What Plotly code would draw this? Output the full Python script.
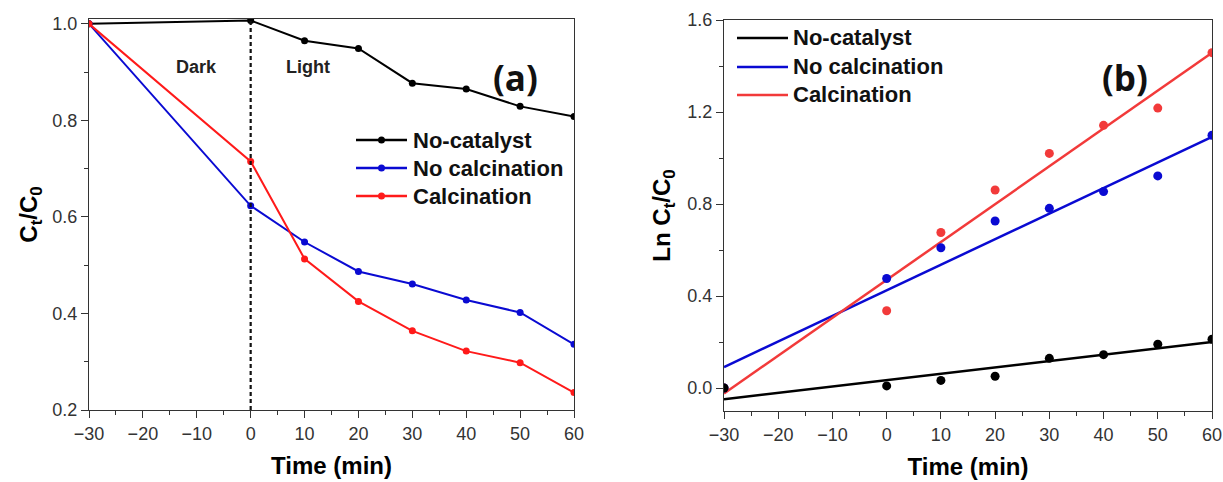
import plotly.graph_objects as go

W, H = 1223, 482

# ---------------- data ----------------
time = [-30, 0, 10, 20, 30, 40, 50, 60]

# panel (a): Ct/C0
a_no_catalyst = [1.000, 1.007, 0.965, 0.949, 0.877, 0.865, 0.829, 0.808]
a_no_calcination = [1.000, 0.623, 0.548, 0.487, 0.461, 0.428, 0.402, 0.336]
a_calcination = [1.000, 0.715, 0.513, 0.425, 0.364, 0.322, 0.298, 0.236]

# panel (b): Ln Ct/C0 points
b_no_catalyst = [0.000, 0.009, 0.033, 0.051, 0.129, 0.145, 0.190, 0.212]
b_no_calcination = [0.000, 0.476, 0.610, 0.726, 0.781, 0.854, 0.922, 1.099]
b_calcination = [0.000, 0.336, 0.676, 0.861, 1.020, 1.142, 1.217, 1.458]

# panel (b): linear fit lines (end points)
fit_x = [-30, 60]
fit_no_catalyst = [-0.049, 0.200]
fit_no_calcination = [0.091, 1.092]
fit_calcination = [-0.024, 1.458]

series_names = ["No-catalyst", "No calcination", "Calcination"]

# ---------------- styles ----------------
BLACK = "#000000"
BLUE = "#0a0ad2"
RED = "#ff1a1a"
RED_B = "#f23a3a"
colors_a = [BLACK, BLUE, RED]
colors_b = [BLACK, BLUE, RED_B]

TICK_FONT = dict(family="Liberation Sans, Arial", size=18, color="#333333")
TITLE_FONT = dict(family="Liberation Sans, Arial", size=24, color="#000000")
LEG_FONT = dict(family="Liberation Sans, Arial", size=22, color="#111111")


def px_x(p):
    return p / W


def px_y(p):
    return 1 - p / H


fig = go.Figure()

# ---- panel (a) traces ----
for name, ys, c in zip(series_names, [a_no_catalyst, a_no_calcination, a_calcination], colors_a):
    fig.add_trace(go.Scatter(
        x=time, y=ys, name=name, mode="lines+markers",
        line=dict(color=c, width=2), marker=dict(color=c, size=7),
        xaxis="x", yaxis="y", showlegend=False))

# ---- panel (b) traces: fit lines then points ----
for name, ys, c in zip(series_names, [fit_no_catalyst, fit_no_calcination, fit_calcination], colors_b):
    fig.add_trace(go.Scatter(
        x=fit_x, y=ys, name=name, mode="lines",
        line=dict(color=c, width=2.5), xaxis="x2", yaxis="y2", showlegend=False))
for name, ys, c in zip(series_names[::-1],
                       [b_calcination, b_no_calcination, b_no_catalyst], colors_b[::-1]):
    fig.add_trace(go.Scatter(
        x=time, y=ys, name=name, mode="markers",
        marker=dict(color=c, size=9), xaxis="x2", yaxis="y2", showlegend=False))

axis_common = dict(
    showline=True, linecolor="#333333", linewidth=1.3, mirror=True,
    ticks="outside", ticklen=7, tickwidth=1.3, tickcolor="#333333",
    showgrid=False, zeroline=False, tickfont=TICK_FONT, title_font=TITLE_FONT,
    automargin=False,
)
minor_common = dict(ticks="outside", ticklen=4, tickwidth=1.2, tickcolor="#333333")

fig.update_layout(
    width=W, height=H,
    margin=dict(l=0, r=0, t=0, b=0, autoexpand=False),
    paper_bgcolor="white", plot_bgcolor="white",
    xaxis=dict(axis_common, domain=[px_x(89), px_x(574)], range=[-30, 60], dtick=10,
               tick0=0, minor=dict(minor_common, dtick=5),
               anchor="y", title=dict(text="<b>Time (min)</b>", standoff=14)),
    yaxis=dict(axis_common, domain=[px_y(410), px_y(19)], range=[0.2, 1.01], dtick=0.2,
               tick0=0.2, tickformat=".1f", minor=dict(minor_common, dtick=0.1),
               anchor="x", title=dict(text="<b>C<sub>t</sub>/C<sub>0</sub></b>", standoff=7)),
    xaxis2=dict(axis_common, domain=[px_x(724), px_x(1212)], range=[-30, 60], dtick=10,
                tick0=0, minor=dict(minor_common, dtick=5),
                anchor="y2", title=dict(text="<b>Time (min)</b>", standoff=14)),
    yaxis2=dict(axis_common, domain=[px_y(411), px_y(20)], range=[-0.1, 1.6], dtick=0.4,
                tick0=0, tickformat=".1f", minor=dict(minor_common, dtick=0.2),
                anchor="x2", title=dict(text="<b>Ln C<sub>t</sub>/C<sub>0</sub></b>", standoff=9)),
    showlegend=False,
)

# dashed divider at t = 0 in panel (a)
fig.add_shape(type="line", xref="x", yref="y", x0=0, x1=0, y0=0.2, y1=1.01,
              line=dict(color="#111111", width=2.2, dash="4px,3px"))

# Dark / Light labels
fig.add_annotation(x=-10, y=0.911, xref="x", yref="y", text="<b>Dark</b>", showarrow=False,
                   font=dict(family="Liberation Sans, Arial", size=18, color="#222222"))
fig.add_annotation(x=10.6, y=0.911, xref="x", yref="y", text="<b>Light</b>", showarrow=False,
                   font=dict(family="Liberation Sans, Arial", size=18, color="#222222"))

# panel labels
for txt, cx in [("(a)", 515), ("(b)", 1150)]:
    fig.add_annotation(x=px_x(cx), y=px_y(52), xref="paper", yref="paper", text=f"<b>{txt}</b>",
                       showarrow=False, font=dict(family="Open Sans", size=35, color="#111111"))

# manual legends
def draw_legend(x0, x1, tx, rows, cols, with_marker):
    for name, ry, c in zip(series_names, rows, cols):
        fig.add_shape(type="line", xref="paper", yref="paper",
                      x0=px_x(x0), x1=px_x(x1), y0=px_y(ry), y1=px_y(ry),
                      line=dict(color=c, width=2.5))
        if with_marker:
            mx = (x0 + x1) / 2
            fig.add_shape(type="circle", xref="paper", yref="paper",
                          x0=px_x(mx - 3.5), x1=px_x(mx + 3.5), y0=px_y(ry + 3.5), y1=px_y(ry - 3.5),
                          line=dict(color=c, width=0), fillcolor=c)
        fig.add_annotation(x=px_x(tx), y=px_y(ry), xref="paper", yref="paper", xanchor="left",
                           yanchor="middle", text=f"<b>{name}</b>", showarrow=False, font=LEG_FONT)

draw_legend(356, 407, 411, [140, 168, 196], colors_a, True)
draw_legend(737, 788, 791, [38, 67, 95], colors_b, False)

fig.write_html("out.html", config={"displayModeBar": False},
               post_script="document.body.style.margin='0px';document.body.style.overflow='hidden';")
